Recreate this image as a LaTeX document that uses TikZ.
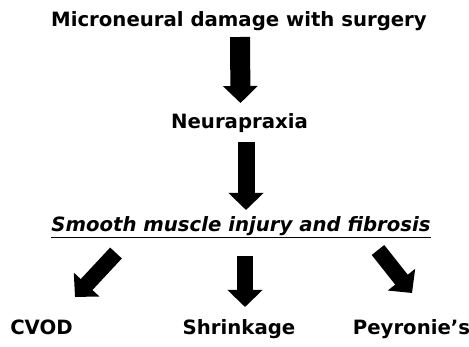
\documentclass[tikz,border=0pt]{standalone}
\usepackage{fontspec}
\setmainfont{DejaVu Sans}
\usetikzlibrary{arrows.meta, calc}

\begin{document}
\begin{tikzpicture}[
    x=1pt, y=-1pt, % pixel grid, y runs down
    txt/.style={font=\bfseries\fontsize{19.7}{23}\selectfont, inner sep=0pt, anchor=base}, % Style for the labels
    blk/.style={line width=17pt, -{Triangle[length=17pt, width=34pt]}} % Style for the block arrows
]

    % Page frame
    \useasboundingbox (0, 0) rectangle (469, 347);

    % Labels
    \node[txt] (damage) at (239, 27) {Microneural damage with surgery};
    \node[txt] (neura) at (239.5, 129) {Neurapraxia};
    \node[txt] (smooth) at (241, 232) {\itshape\underline{Smooth muscle injury and fibrosis}};
    \node[txt] (cvod) at (41.5, 335) {CVOD};
    \node[txt] (shrink) at (239, 335) {Shrinkage};
    \node[txt] (peyr) at (411.5, 335) {Peyronie's};

    % Arrow ends
    \coordinate (cvodtail) at (116, 253);
    \coordinate (cvodtip) at (75, 297);
    \coordinate (peyrtail) at (378, 250);
    \coordinate (peyrtip) at (412, 293);

    % Down the chain
    \draw[blk, line width=20pt] ([xshift=1pt, yshift=-10pt]damage.base) -- ([xshift=1pt, yshift=26pt]neura.base);
    \draw[blk] ([xshift=6.5pt, yshift=-13pt]neura.base) -- ([xshift=5pt, yshift=22pt]smooth.base);

    % Three outcomes
    \draw[blk, line width=16pt] (cvodtail) -- (cvodtip);
    \draw[blk, line width=16pt] ([xshift=4pt, yshift=-24pt]smooth.base) -- ([xshift=6pt, yshift=28pt]shrink.base);
    \draw[blk, line width=16pt] (peyrtail) -- (peyrtip);

\end{tikzpicture}
\end{document}
